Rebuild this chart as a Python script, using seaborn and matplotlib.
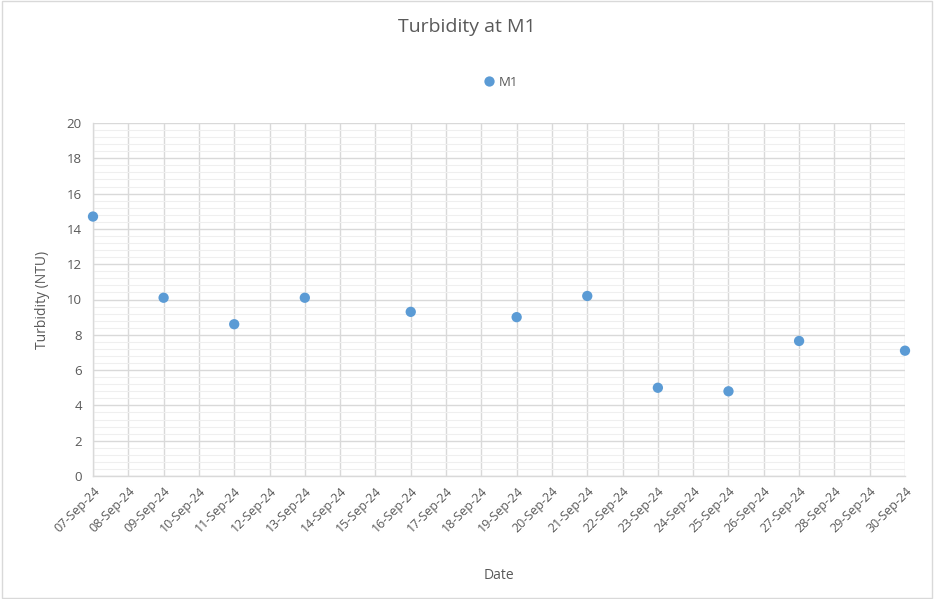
import pandas as pd
import numpy as np
import matplotlib
matplotlib.use("Agg")
import matplotlib.pyplot as plt
import matplotlib.dates as mdates
from matplotlib.ticker import MultipleLocator
import seaborn as sns

# Data
DATES = ['2024-09-07', '2024-09-09', '2024-09-11', '2024-09-13', '2024-09-16',
         '2024-09-19', '2024-09-21', '2024-09-23', '2024-09-25', '2024-09-27',
         '2024-09-30']
TURBIDITY = [14.7, 10.1, 8.6, 10.1, 9.3, 9.0, 10.2, 5.0, 4.8, 7.65, 7.1]
SERIES = 'M1'

TEXT_COLOR = '#595959'
GRID_COLOR = '#d9d9d9'
POINT_COLOR = '#5b9bd5'

sns.set_theme(style="white")
plt.rcParams['font.family'] = ['Open Sans', 'DejaVu Sans']

df = pd.DataFrame({'Date': pd.to_datetime(DATES), 'Turbidity': TURBIDITY, 'Site': SERIES})

fig = plt.figure(figsize=(9.34, 5.99), dpi=100)
ax = fig.add_axes([93 / 934, 1 - 476 / 599, (905 - 93) / 934, (476 - 123) / 599])

sns.scatterplot(data=df, x='Date', y='Turbidity', hue='Site', palette=[POINT_COLOR],
                s=55, edgecolor='none', ax=ax, clip_on=False, zorder=3)

ax.set_xlim(pd.Timestamp('2024-09-07'), pd.Timestamp('2024-09-30'))
ax.set_ylim(0, 20)
ax.xaxis.set_major_locator(mdates.DayLocator())
ax.xaxis.set_major_formatter(mdates.DateFormatter('%d-%b-%y'))
ax.yaxis.set_major_locator(MultipleLocator(2))
ax.yaxis.set_minor_locator(MultipleLocator(0.4))

ax.grid(True, which='major', color=GRID_COLOR, linewidth=1.0)
ax.grid(True, which='minor', axis='y', color='#efefef', linewidth=0.8)
ax.set_axisbelow(True)
for name, sp in ax.spines.items():
    sp.set_visible(name in ('left', 'bottom'))
    sp.set_color(GRID_COLOR)
    sp.set_linewidth(1.0)

ax.tick_params(axis='x', which='major', length=4, color=GRID_COLOR, labelsize=9,
               labelcolor=TEXT_COLOR, pad=2)
ax.tick_params(axis='y', which='both', length=0, labelsize=9.5, labelcolor=TEXT_COLOR, pad=8)
plt.setp(ax.get_xticklabels(), rotation=45, ha='right', rotation_mode='anchor')

ax.set_xlabel('Date', color=TEXT_COLOR, fontsize=10, labelpad=24)
ax.set_ylabel('Turbidity (NTU)', color=TEXT_COLOR, fontsize=10, labelpad=12)

fig.suptitle('Turbidity at M1', y=1 - 27 / 599, va='center', fontsize=14, color=TEXT_COLOR)

leg = ax.legend(loc='center', bbox_to_anchor=(497 / 934, 1 - 82 / 599),
                bbox_transform=fig.transFigure, frameon=False, title=None,
                fontsize=9.5, handletextpad=-0.3, markerscale=1.0)
for t in leg.get_texts():
    t.set_color(TEXT_COLOR)

# light border around the chart area
fig.patches.append(plt.Rectangle((0.002, 0.002), 0.996, 0.996, transform=fig.transFigure,
                                 fill=False, edgecolor='#d9d9d9', linewidth=1.0))

fig.savefig('out.png', dpi=100)
